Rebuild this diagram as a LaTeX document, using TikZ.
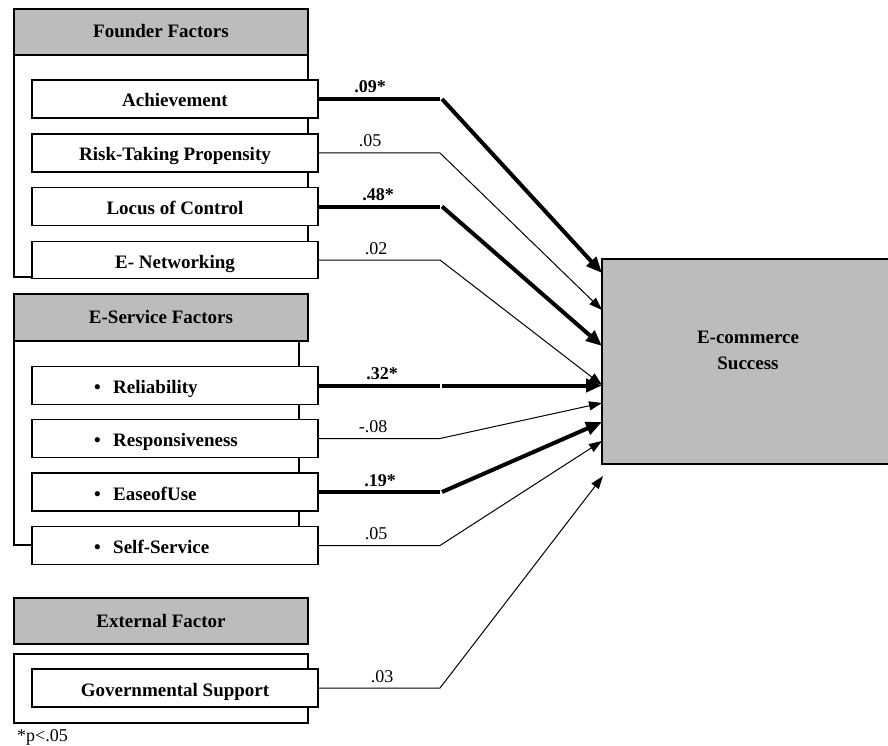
\documentclass[tikz,border=0pt]{standalone}
\usepackage{fontspec}
\setmainfont{Liberation Serif}
\usetikzlibrary{arrows.meta}
\definecolor{boxgray}{RGB}{188,188,188}
\begin{document}
\begin{tikzpicture}[x=1pt,y=-1pt,
  frame/.style={draw=black,line width=1.3pt},
  header/.style={draw=black,line width=1.3pt,fill=boxgray,minimum width=294pt,minimum height=46pt,inner sep=0pt,
    text height=12pt,text depth=0pt,font=\fontsize{19}{22}\selectfont\bfseries},
  item/.style={draw=black,line width=1.3pt,fill=white,minimum width=286pt,minimum height=38pt,inner sep=0pt,
    text height=16pt,text depth=0pt,font=\fontsize{19}{22}\selectfont\bfseries},
  bitem/.style={item,text width=162pt,inner xsep=62pt,align=left},
  ecbox/.style={draw=black,line width=1.5pt,fill=boxgray,minimum width=290pt,minimum height=205pt,inner sep=0pt},
  ectext/.style={align=center,font=\fontsize{19}{26}\selectfont\bfseries,inner sep=0pt},
  lbl/.style={anchor=base,inner sep=0pt,font=\fontsize{18}{20}\selectfont},
  slbl/.style={lbl,font=\fontsize{18}{20}\selectfont\bfseries},
  thk/.style={line width=4pt},
  thn/.style={line width=1pt},
  thkarrow/.style={thk,-{Triangle[length=16pt,width=13pt]}},
  thnarrow/.style={thn,-{Triangle[length=13pt,width=9pt]}},
  note/.style={anchor=base west,inner sep=0pt,font=\fontsize{18}{20}\selectfont}
]
\useasboundingbox (0,0) rectangle (888,746);

% headers
\node[header] (fh) at (161,32) {Founder Factors};
\node[header,minimum height=47pt] (sh) at (161,317.5) {E-Service Factors};
\node[header] (xh) at (161,621) {External Factor};

% frames
\draw[frame] (14,55) rectangle (308,277);
\draw[frame] (14,341) rectangle (299,545);
\draw[frame] (14,654) rectangle (308,723);

% items
\node[item] (ach) at (175,99) {Achievement};
\node[item] (risk) at (175,153) {Risk-Taking Propensity};
\node[item] (loc) at (175,206.5) {Locus of Control};
\node[item,minimum height=37pt] (enet) at (175,260) {E- Networking};
\node[bitem] (rel) at (175,385.5) {\textbullet\hspace{12.6pt}Reliability};
\node[bitem] (resp) at (175,438.5) {\textbullet\hspace{12.6pt}Responsiveness};
\node[bitem] (ease) at (175,492) {\textbullet\hspace{12.6pt}EaseofUse};
\node[bitem] (self) at (175,545.5) {\textbullet\hspace{12.6pt}Self-Service};
\node[item] (gov) at (175,688) {Governmental Support};

% outcome
\node[ecbox] (ec) at (747,361.5) {};
\node[ectext] (ect) at (748,350) {E-commerce\\Success};

% bends and targets
\coordinate (b1) at (440,99);
\coordinate (b2) at (440,153);
\coordinate (b3) at (440,206.5);
\coordinate (b4) at (440,260);
\coordinate (b5) at (440,385.5);
\coordinate (b6) at (440,438.5);
\coordinate (b7) at (440,492);
\coordinate (b8) at (440,545.5);
\coordinate (b9) at (440,688);
\coordinate (t1) at (602,273);
\coordinate (t2) at (602,310);
\coordinate (t3) at (602,346);
\coordinate (t4) at (602,385);
\coordinate (t5) at (602,385.5);
\coordinate (t6) at (602,403);
\coordinate (t7) at (602,422);
\coordinate (t8) at (602,441);
\coordinate (t9) at (603,476);

% connectors
\draw[thk] (ach.east) -- (b1);
\draw[thkarrow] ([xshift=2pt]b1) -- (t1);
\draw[thnarrow] (risk.east) -- (b2) -- (t2);
\draw[thk] (loc.east) -- (b3);
\draw[thkarrow] ([xshift=2pt]b3) -- (t3);
\draw[thnarrow] (enet.east) -- (b4) -- (t4);
\draw[thk] (rel.east) -- (b5);
\draw[thkarrow] ([xshift=2pt]b5) -- (t5);
\draw[thnarrow] (resp.east) -- (b6) -- (t6);
\draw[thk] (ease.east) -- (b7);
\draw[thkarrow] ([xshift=2pt]b7) -- (t7);
\draw[thnarrow] (self.east) -- (b8) -- (t8);
\draw[thnarrow] (gov.east) -- (b9) -- (t9);

% labels
\node[slbl] (l1) at (370,93) {.09*};
\node[lbl] (l2) at (370,147) {.05};
\node[slbl] (l3) at (378,200.5) {.48*};
\node[lbl] (l4) at (376,254) {.02};
\node[slbl] (l5) at (382,379.5) {.32*};
\node[lbl] (l6) at (373,432.5) {-.08};
\node[slbl] (l7) at (380,486) {.19*};
\node[lbl] (l8) at (376,539.5) {.05};
\node[lbl] (l9) at (382,682) {.03};

\node[note] (pn) at (17,741.5) {*p<.05};
\end{tikzpicture}
\end{document}
